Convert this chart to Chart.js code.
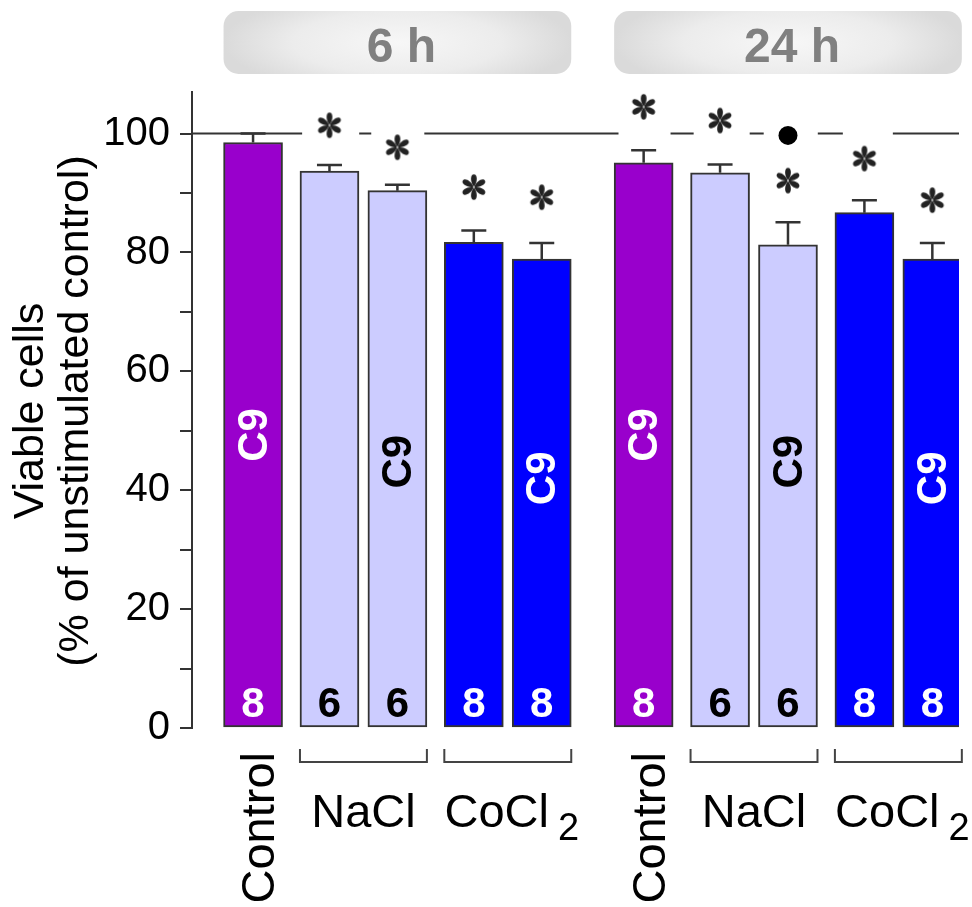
<!DOCTYPE html>
<html><head><meta charset="utf-8">
<script src="https://cdn.jsdelivr.net/npm/chart.js@4.4.1/dist/chart.umd.min.js"></script>
<style>html,body{margin:0;padding:0;background:#fff;}#wrap{width:972px;height:907px;position:relative;}</style>
</head><body><div id="wrap"><canvas id="c" width="972" height="907"></canvas></div>
<script>
// ---------------- data ----------------
const timePoints = ['6 h', '24 h'];
const treatments = ['Control','NaCl','NaCl','CoCl2','CoCl2','Control','NaCl','NaCl','CoCl2','CoCl2'];
const viableCells = [98.5, 93.7, 90.4, 81.7, 78.9, 95.1, 93.4, 81.3, 86.7, 78.9];
const semValues  = [1.5, 1.0, 1.0, 2.0, 2.7, 2.1, 1.4, 3.8, 2.1, 2.7];
const nValues    = [8, 6, 6, 8, 8, 8, 6, 6, 8, 8];
const cellLineLabel = ['C9', null, 'C9', null, 'C9', 'C9', null, 'C9', null, 'C9'];
const cellLineLabelY = [49.3, null, 44.8, null, 42.0, 49.3, null, 44.8, null, 42.0];
const starY = [null, 101.4, 97.7, 91.0, 89.3, 104.5, 102.2, 92.1, 95.8, 88.8];
const dotY  = [null, null, null, null, null, null, null, 99.7, null, null];
const yTickLabels = [0, 20, 40, 60, 80, 100];
const yMinorTicks = [10, 30, 50, 70, 90];
const yTitle = ['Viable cells', '(% of unstimulated control)'];
const refValue = 100;

// ---------------- layout / style ----------------
const FONT = '"Liberation Sans", Arial, Helvetica, sans-serif';
const xSlot = [0, 9, 17, 26, 34, 46, 55, 63, 72, 80];
const X_MIN = -7.19, X_MAX = 83.14;
const refSegments = [[X_MIN,5.78],[12.5,13.92],[20.17,43.04],[49.17,51.89],[58.49,60.14],[66.51,69.46],[75.35,X_MAX]];
const fillColor = {Control:'#9900CC', NaCl:'#CCCCFF', CoCl2:'#0000FF'};
const textColor = {Control:'#ffffff', NaCl:'#000000', CoCl2:'#ffffff'};
const groups = [
  {time:0, idx:[0,1,2,3,4]}, {time:1, idx:[5,6,7,8,9]}
];
const subGroups = [[1,2],[3,4],[6,7],[8,9]];

function makeStar(){
  const c = document.createElement('canvas'); c.width = 28; c.height = 28;
  const g = c.getContext('2d'); g.translate(14,14); g.fillStyle = '#222';
  for (let k=0;k<6;k++){
    g.save(); g.rotate(k*Math.PI/3);
    g.beginPath(); g.moveTo(0,-0.5);
    g.bezierCurveTo(-3.8,-5,-3.9,-12.8,0,-12.8);
    g.bezierCurveTo(3.9,-12.8,3.8,-5,0,-0.5);
    g.fill(); g.restore();
  }
  return c;
}
const starImg = makeStar();

// reference line data (with gaps)
const refData = [];
refSegments.forEach((s,i)=>{
  refData.push({x:s[0],y:refValue},{x:s[1],y:refValue});
  if (i < refSegments.length-1) refData.push({x:(s[1]+refSegments[i+1][0])/2, y:null});
});

const barData = viableCells.map((v,i)=>({x:xSlot[i], y:v}));
const starData = starY.map((v,i)=> v==null?null:{x:xSlot[i], y:v}).filter(Boolean);
const dotData = dotY.map((v,i)=> v==null?null:{x:xSlot[i], y:v}).filter(Boolean);

const extras = {
  id:'extras',
  afterDatasetsDraw(chart){
    const ctx = chart.ctx, ys = chart.scales.y;
    const meta = chart.getDatasetMeta(0);
    ctx.save();
    // error bars
    ctx.strokeStyle = '#333'; ctx.lineWidth = 2.5;
    meta.data.forEach((el,i)=>{
      const yt = ys.getPixelForValue(viableCells[i]);
      const yc = ys.getPixelForValue(viableCells[i]+semValues[i]);
      ctx.beginPath(); ctx.moveTo(el.x, yt); ctx.lineTo(el.x, yc);
      ctx.moveTo(el.x-12.5, yc); ctx.lineTo(el.x+12.5, yc); ctx.stroke();
    });
    // n labels
    const y0 = ys.getPixelForValue(0);
    ctx.font = 'bold 42px ' + FONT; ctx.textAlign = 'center'; ctx.textBaseline = 'alphabetic';
    meta.data.forEach((el,i)=>{
      ctx.fillStyle = textColor[treatments[i]];
      ctx.fillText(String(nValues[i]), el.x, y0 - 11);
    });
    // C9 labels
    meta.data.forEach((el,i)=>{
      if (!cellLineLabel[i]) return;
      ctx.save();
      ctx.translate(el.x + 2, ys.getPixelForValue(cellLineLabelY[i]));
      ctx.rotate(-Math.PI/2);
      ctx.fillStyle = textColor[treatments[i]];
      ctx.textBaseline = 'middle';
      ctx.fillText(cellLineLabel[i], 0, 0);
      ctx.restore();
    });
    ctx.restore();
  },
  afterDraw(chart){
    const ctx = chart.ctx, ys = chart.scales.y, ca = chart.chartArea;
    const meta = chart.getDatasetMeta(0);
    const bx = i => meta.data[i].x, bw = i => meta.data[i].width;
    ctx.save();
    // header boxes
    groups.forEach(g=>{
      const a = g.idx[0], b = g.idx[g.idx.length-1];
      const x1 = bx(a) - bw(a)/2, x2 = bx(b) + bw(b)/2;
      const y1 = 11, y2 = 74, r = 15;
      const w = x2-x1, h = y2-y1, cx = (x1+x2)/2, cy = (y1+y2)/2;
      ctx.save();
      ctx.beginPath();
      ctx.moveTo(x1+r,y1); ctx.lineTo(x2-r,y1); ctx.arcTo(x2,y1,x2,y1+r,r);
      ctx.lineTo(x2,y2-r); ctx.arcTo(x2,y2,x2-r,y2,r); ctx.lineTo(x1+r,y2);
      ctx.arcTo(x1,y2,x1,y2-r,r); ctx.lineTo(x1,y1+r); ctx.arcTo(x1,y1,x1+r,y1,r);
      ctx.closePath(); ctx.clip();
      ctx.translate(cx,cy); ctx.scale(1, 0.3);
      const gr = ctx.createRadialGradient(0,0,0,0,0,w/2);
      gr.addColorStop(0,'#f7f7f7'); gr.addColorStop(0.6,'#ececec'); gr.addColorStop(1,'#dadada');
      ctx.fillStyle = gr; ctx.fillRect(-w, -h*4, w*2, h*8);
      ctx.restore();
      ctx.fillStyle = '#808080'; ctx.font = 'bold 48px ' + FONT;
      ctx.textAlign = 'center'; ctx.textBaseline = 'alphabetic';
      ctx.fillText(timePoints[g.time], cx + 4, 62);
    });
    // y title
    ctx.fillStyle = '#000'; ctx.font = '43px ' + FONT; ctx.textAlign = 'center'; ctx.textBaseline = 'alphabetic';
    const ym = (ca.top + ca.bottom)/2 + 1;
    [43, 88].forEach((xb,k)=>{
      ctx.save(); ctx.translate(xb, ym); ctx.rotate(-Math.PI/2);
      ctx.fillText(yTitle[k], 0, 0); ctx.restore();
    });
    // brackets and group labels
    const y0 = ys.getPixelForValue(0);
    ctx.strokeStyle = '#444'; ctx.lineWidth = 2;
    subGroups.forEach(sg=>{
      const a = sg[0], b = sg[1];
      const x1 = bx(a) - bw(a)/2, x2 = bx(b) + bw(b)/2;
      ctx.beginPath(); ctx.moveTo(x1, y0+21); ctx.lineTo(x1, y0+34); ctx.lineTo(x2, y0+34); ctx.lineTo(x2, y0+21); ctx.stroke();
      const cx = (x1+x2)/2;
      const name = treatments[a];
      ctx.fillStyle = '#000'; ctx.textBaseline = 'alphabetic';
      if (name === 'CoCl2'){
        ctx.font = '47px ' + FONT; const w1 = ctx.measureText('CoCl').width;
        ctx.font = '38px ' + FONT; const w2 = ctx.measureText('2').width;
        const gap = 9, tot = w1 + gap + w2;
        const sx = cx + 4 - tot/2;
        ctx.textAlign = 'left';
        ctx.font = '47px ' + FONT; ctx.fillText('CoCl', sx, y0+99);
        ctx.font = '38px ' + FONT; ctx.fillText('2', sx + w1 + gap, y0+112);
      } else {
        ctx.font = '47px ' + FONT; ctx.textAlign = 'center';
        ctx.fillText(name, cx, y0+99);
      }
    });
    // Control labels
    groups.forEach(g=>{
      const i = g.idx[0];
      ctx.save(); ctx.translate(bx(i) + 21, y0 + 24); ctx.rotate(-Math.PI/2);
      ctx.font = '47px ' + FONT; ctx.textAlign = 'right'; ctx.textBaseline = 'alphabetic'; ctx.fillStyle = '#000';
      ctx.fillText(treatments[i], 0, 0); ctx.restore();
    });
    ctx.restore();
  }
};

new Chart(document.getElementById('c'), {
  type: 'bar',
  data: {
    datasets: [
      { type:'bar', data: barData,
        backgroundColor: treatments.map(t=>fillColor[t]),
        borderColor: '#333', borderWidth: 2, borderSkipped: false,
        barThickness: 59, order: 2 },
      { type:'line', data: refData, borderColor:'#333', borderWidth: 2,
        pointRadius: 0, spanGaps: false, fill: false, order: 3 },
      { type:'scatter', data: starData, pointStyle: starImg, pointRadius: 12, order: 1 },
      { type:'scatter', data: dotData, pointStyle: 'circle', pointRadius: 9.5,
        backgroundColor:'#000', borderWidth: 0, order: 1 }
    ]
  },
  options: {
    responsive: false, animation: false,
    layout: { padding: { top: 92, bottom: 179, left: 0, right: 0 } },
    plugins: { legend: { display: false }, tooltip: { enabled: false } },
    scales: {
      x: { type: 'linear', min: X_MIN, max: X_MAX, display: false, offset: false, grid: { offset: false } },
      y: {
        min: 0, max: 107,
        afterFit(s){ s.width = 192; },
        afterBuildTicks(s){ s.ticks = yTickLabels.concat(yMinorTicks).sort((a,b)=>a-b).map(v=>({value:v})); },
        ticks: { callback: v => yTickLabels.includes(v) ? String(v) : '',
                 font: { size: 40, family: FONT }, color: '#000', padding: 10 },
        grid: { drawOnChartArea: false, drawTicks: true, tickLength: 12, color: '#333', lineWidth: 2 },
        border: { display: true, color: '#333', width: 2 }
      }
    }
  },
  plugins: [extras]
});
</script></body></html>
